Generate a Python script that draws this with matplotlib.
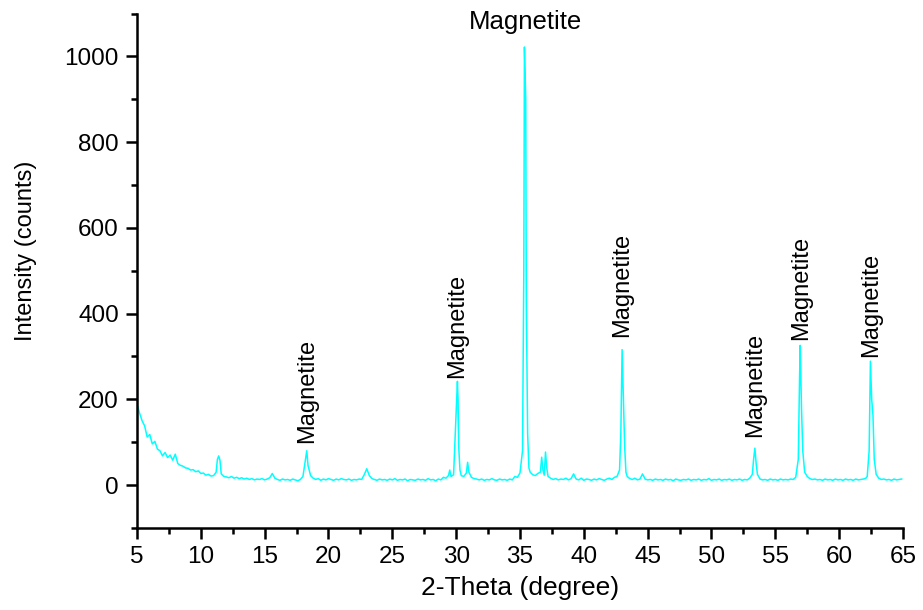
#!/usr/bin/env python3

import matplotlib
matplotlib.use('Agg')
import matplotlib.pyplot as plt
from matplotlib.ticker import MultipleLocator

plt.rcParams['font.family'] = ['Liberation Sans', 'DejaVu Sans']

# XRD pattern (2-theta in degree, intensity in counts)
two_theta = [
    5.0, 5.2, 5.4, 5.6, 5.8, 6.0, 6.2, 6.4, 6.6, 6.8, 7.0, 7.2, 7.4, 7.6, 7.8, 8.0,
    8.2, 8.4, 8.6, 8.8, 9.0, 9.2, 9.4, 9.6, 9.8, 10.0, 10.2, 10.4, 10.6, 10.8, 11.0, 11.2,
    11.3, 11.4, 11.5, 11.6,
    11.8, 12.0, 12.2, 12.4, 12.6, 12.8, 13.0, 13.2, 13.4, 13.6, 13.8, 14.0, 14.2, 14.4,
    14.6, 14.8, 15.0, 15.2, 15.4, 15.6, 15.8, 16.0, 16.2, 16.4, 16.6, 16.8, 17.0, 17.2,
    17.4, 17.6, 17.8, 18.0,
    18.2, 18.3, 18.4, 18.5, 18.6,
    18.8, 19.0, 19.2, 19.4, 19.6, 19.8, 20.0, 20.2, 20.4, 20.6, 20.8, 21.0, 21.2, 21.4,
    21.6, 21.8, 22.0, 22.2, 22.4, 22.6, 22.8, 23.0, 23.2, 23.4, 23.6, 23.8, 24.0, 24.2,
    24.4, 24.6, 24.8, 25.0, 25.2, 25.4, 25.6, 25.8, 26.0, 26.2, 26.4, 26.6, 26.8, 27.0,
    27.2, 27.4, 27.6, 27.8, 28.0, 28.2, 28.4, 28.6, 28.8, 29.0, 29.2, 29.4, 29.5, 29.6,
    29.8,
    30.0, 30.1, 30.15, 30.2, 30.3, 30.4, 30.6, 30.8, 30.9, 31.0,
    31.2, 31.4, 31.6, 31.8, 32.0, 32.2, 32.4, 32.6, 32.8, 33.0, 33.2, 33.4, 33.6, 33.8,
    34.0, 34.2, 34.4, 34.6, 34.8, 35.0,
    35.2, 35.3, 35.35, 35.45, 35.5, 35.6, 35.7, 35.8,
    36.0, 36.2, 36.4, 36.6, 36.7, 36.8, 36.9, 37.0, 37.1, 37.2,
    37.4, 37.6, 37.8, 38.0, 38.2, 38.4, 38.6, 38.8, 39.0, 39.2, 39.4, 39.6, 39.8, 40.0,
    40.2, 40.4, 40.6, 40.8, 41.0, 41.2, 41.4, 41.6, 41.8, 42.0, 42.2, 42.4, 42.6,
    42.8, 42.9, 43.0, 43.1, 43.2, 43.3, 43.4,
    43.6, 43.8, 44.0, 44.2, 44.4, 44.6, 44.8, 45.0, 45.2, 45.4, 45.6, 45.8, 46.0, 46.2,
    46.4, 46.6, 46.8, 47.0, 47.2, 47.4, 47.6, 47.8, 48.0, 48.2, 48.4, 48.6, 48.8, 49.0,
    49.2, 49.4, 49.6, 49.8, 50.0, 50.2, 50.4, 50.6, 50.8, 51.0, 51.2, 51.4, 51.6, 51.8,
    52.0, 52.2, 52.4, 52.6, 52.8, 53.0,
    53.2, 53.3, 53.4, 53.5, 53.6,
    53.8, 54.0, 54.2, 54.4, 54.6, 54.8, 55.0, 55.2, 55.4, 55.6, 55.8, 56.0, 56.2, 56.4,
    56.6, 56.8, 56.9, 56.95, 57.05, 57.15, 57.3, 57.5,
    57.7, 57.9, 58.1, 58.3, 58.5, 58.7, 58.9, 59.1, 59.3, 59.5, 59.7, 59.9, 60.1, 60.3,
    60.5, 60.7, 60.9, 61.1, 61.3, 61.5, 61.7, 61.9, 62.1, 62.2,
    62.35, 62.45, 62.55, 62.65, 62.75, 62.9,
    63.1, 63.3, 63.5, 63.7, 63.9, 64.1, 64.3, 64.5, 64.7, 64.9,
]
counts = [
    190, 168, 150, 138, 112, 118, 96, 102, 84, 80, 68, 76, 64, 70, 58, 72,
    50, 46, 44, 40, 39, 35, 36, 31, 33, 27, 28, 23, 25, 21, 22, 30,
    60, 68, 58, 26,
    20, 19, 17, 20, 16, 18, 15, 17, 14, 16, 13, 15, 12, 14,
    13, 15, 12, 14, 17, 27, 16, 13, 11, 14, 12, 13, 11, 14,
    12, 10, 13, 20,
    60, 80, 45, 34, 22,
    16, 13, 15, 11, 14, 12, 15, 13, 11, 14, 12, 15, 13, 12,
    14, 11, 13, 12, 14, 13, 24, 38, 22, 15, 13, 11, 14, 12,
    13, 11, 14, 12, 15, 11, 13, 12, 14, 10, 13, 12, 11, 14,
    12, 13, 11, 15, 12, 13, 10, 14, 12, 18, 16, 22, 35, 20,
    24,
    170, 242, 200, 90, 35, 22, 20, 28, 53, 30,
    18, 15, 14, 12, 14, 11, 13, 12, 15, 12, 11, 14, 12, 13,
    11, 14, 12, 20, 18, 28,
    80, 500, 1022, 900, 420, 120, 40, 30,
    24, 22, 27, 30, 65, 35, 23, 77, 40, 20,
    16, 13, 15, 12, 14, 13, 16, 12, 15, 26, 14, 12, 16, 11,
    14, 13, 11, 14, 12, 15, 13, 11, 14, 16, 13, 18, 20,
    35, 120, 316, 206, 90, 30, 20,
    15, 13, 16, 12, 14, 26, 14, 12, 13, 11, 14, 12, 13, 11,
    14, 12, 13, 10, 14, 12, 11, 13, 12, 14, 11, 13, 12, 14,
    11, 13, 12, 15, 11, 13, 12, 14, 11, 13, 12, 14, 11, 13,
    12, 14, 11, 13, 12, 16,
    25, 60, 86, 50, 25,
    14, 12, 13, 11, 14, 12, 13, 11, 14, 12, 13, 12, 14, 13,
    18, 60, 250, 326, 182, 80, 30, 20,
    15, 13, 14, 12, 13, 11, 14, 12, 13, 11, 14, 12, 13, 11,
    14, 12, 13, 11, 14, 12, 13, 14, 16, 20,
    80, 289, 200, 163, 60, 25,
    16, 13, 14, 12, 13, 11, 14, 12, 13, 14,
]

# peak labels: (2-theta, intensity where the text starts, rotation)
label_pos = [18.3, 30.1, 43.0, 53.4, 57.0, 62.5]
label_y = [98, 250, 345, 112, 338, 298]
top_label_x = 35.4
top_label_y = 1065

fig = plt.figure(figsize=(9.23, 6.10), dpi=100)
ax = fig.add_axes([0.1484, 0.1346, 0.8299, 0.8431])

ax.plot(two_theta, counts, color='#00FFFF', linewidth=1.1)

for x, y in zip(label_pos, label_y):
    ax.text(x, y, 'Magnetite', rotation=90, ha='center', va='bottom', fontsize=17)
ax.text(top_label_x, top_label_y, 'Magnetite', ha='center', va='baseline', fontsize=18.5)

ax.set_xlim(5, 65)
ax.set_ylim(-100, 1100)
ax.xaxis.set_major_locator(MultipleLocator(5))
ax.xaxis.set_minor_locator(MultipleLocator(2.5))
ax.yaxis.set_major_locator(MultipleLocator(200))
ax.yaxis.set_minor_locator(MultipleLocator(100))
ax.set_yticks([0, 200, 400, 600, 800, 1000])

for side in ['top', 'right']:
    ax.spines[side].set_visible(False)
for side in ['left', 'bottom']:
    ax.spines[side].set_linewidth(1.8)

ax.tick_params(which='major', direction='out', length=8, width=1.8, labelsize=17.5, pad=5)
ax.tick_params(which='minor', direction='out', length=4.5, width=1.8)

ax.set_xlabel('2-Theta (degree)', fontsize=19, labelpad=6)
ax.set_ylabel('Intensity (counts)', fontsize=17)
ax.yaxis.set_label_coords(-0.1305, 0.538)

plt.savefig('out.png', dpi=100)
